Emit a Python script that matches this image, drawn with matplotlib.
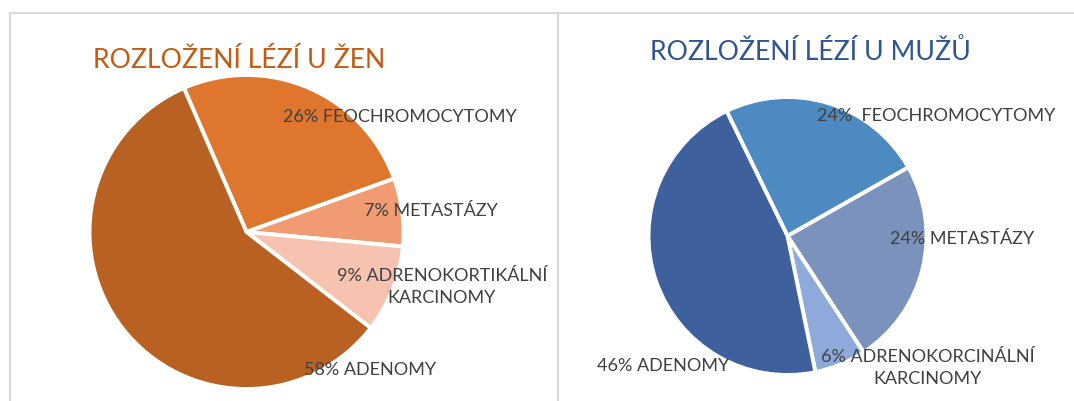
import matplotlib
matplotlib.use("Agg")
import matplotlib.pyplot as plt

# --- data ---
women_labels = ["26% FEOCHROMOCYTOMY", "7% METASTÁZY",
                "9% ADRENOKORTIKÁLNÍ\nKARCINOMY", "58% ADENOMY"]
women_values = [26, 7, 9, 58]
women_colors = ["#DE762E", "#F09B72", "#F6C3B1", "#B96122"]

men_labels = ["24%  FEOCHROMOCYTOMY", "24% METASTÁZY",
              "6% ADRENOKORCINÁLNÍ\nKARCINOMY", "46% ADENOMY"]
men_values = [24, 24, 6, 46]
men_colors = ["#4E8AC2", "#7B92BC", "#8EAADB", "#3E609C"]

W, H = 1074, 401
FONT = ["Lato", "DejaVu Sans"]
LABEL_C = "#404040"

fig = plt.figure(figsize=(W / 100, H / 100), dpi=100)
ax = fig.add_axes([0, 0, 1, 1])

# chart frames
frame = dict(color="#D9D9D9", lw=1.5, solid_capstyle="butt")
ax.plot([10, 10, 558, 558], [0, H - 13, H - 13, 0], **frame)
ax.plot([558, W], [H - 13, H - 13], **frame)

wedge = dict(edgecolor="white", linewidth=2.8)

# left pie
ax.pie(women_values, colors=women_colors, startangle=113.5, counterclock=False,
       center=(246.5, H - 232), radius=157, wedgeprops=wedge, frame=True)
# right pie
ax.pie(men_values, colors=men_colors, startangle=116, counterclock=False,
       center=(787.5, H - 236), radius=139, wedgeprops=wedge, frame=True)
ax.set_xlim(0, W)
ax.set_ylim(0, H)
ax.axis("off")

ax.text(239, H - 61, "ROZLOŽENÍ LÉZÍ U ŽEN", color="#C55A11", fontsize=19.2,
        ha="center", va="center", family=FONT)
ax.text(810, H - 52, "ROZLOŽENÍ LÉZÍ U MUŽŮ", color="#2F5597", fontsize=19.2,
        ha="center", va="center", family=FONT)

women_pos = [(400, 117), (431, 211), (442, 287), (370, 370)]
men_pos = [(936, 116), (962, 239), (928, 368), (663, 366)]

for lab, (x, y) in zip(women_labels, women_pos):
    ax.text(x, H - y, lab, color=LABEL_C, fontsize=13, ha="center", va="center",
            family=FONT, linespacing=1.4)
for lab, (x, y) in zip(men_labels, men_pos):
    ax.text(x, H - y, lab, color=LABEL_C, fontsize=13, ha="center", va="center",
            family=FONT, linespacing=1.4)

fig.savefig("out.png", dpi=100)
